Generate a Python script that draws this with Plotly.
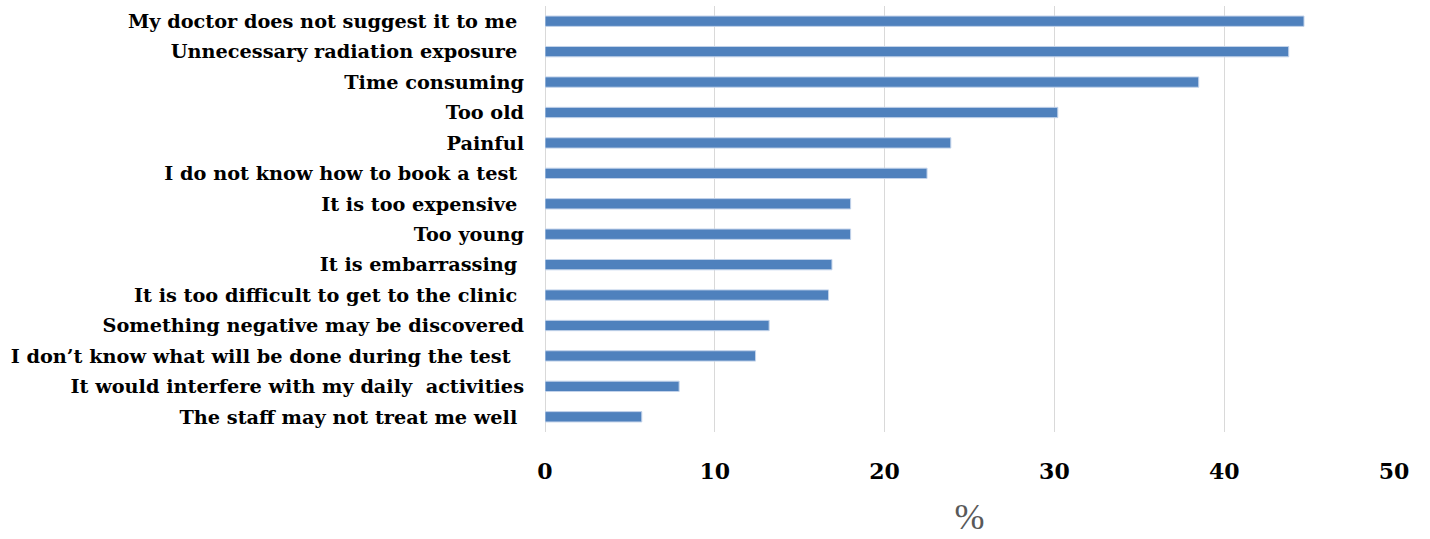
import plotly.graph_objects as go

# Reasons given for not having the test, share of respondents (%)
reasons = [
    "My doctor does not suggest it to me\u00a0",
    "Unnecessary radiation exposure\u00a0",
    "Time consuming",
    "Too old",
    "Painful",
    "I do not know how to book a test\u00a0",
    "It is too expensive\u00a0",
    "Too young",
    "It is embarrassing\u00a0",
    "It is too difficult to get to the clinic\u00a0",
    "Something negative may be discovered",
    "I don\u2019t know what will be done during the test\u00a0\u00a0",
    "It would interfere with my daily\u00a0 activities",
    "The staff may not treat me well\u00a0",
]
percent = [44.7, 43.8, 38.5, 30.2, 23.9, 22.5, 18.0, 18.0, 16.9, 16.7, 13.2, 12.4, 7.9, 5.7]
x_ticks = [0, 10, 20, 30, 40, 50]

fig = go.Figure(
    go.Bar(
        x=percent,
        y=reasons,
        orientation="h",
        width=0.34,
        marker=dict(color="#4f81bd", line=dict(color="#c3d3ea", width=1)),
    )
)

fig.update_layout(
    width=1430,
    height=539,
    margin=dict(l=545, r=36, t=6, b=107),
    paper_bgcolor="white",
    plot_bgcolor="white",
    showlegend=False,
    bargap=0.66,
)

fig.update_xaxes(
    range=[0, 50],
    tickvals=x_ticks,
    ticktext=[str(v) for v in x_ticks],
    showgrid=True,
    gridcolor="#d9d9d9",
    gridwidth=1,
    zeroline=True,
    zerolinecolor="#d9d9d9",
    zerolinewidth=1,
    showline=False,
    ticks="",
    ticklabelstandoff=24,
    tickfont=dict(family="DejaVu Serif", size=22, color="black", weight="bold"),
    title=dict(
        text="%",
        font=dict(family="Liberation Serif", size=36, color="#595959"),
        standoff=20,
    ),
)

fig.update_yaxes(
    autorange="reversed",
    showgrid=False,
    showline=False,
    ticks="",
    ticklabelstandoff=20,
    tickfont=dict(family="DejaVu Serif", size=19.3, color="black", weight="bold"),
)

fig.write_html("out.html")
